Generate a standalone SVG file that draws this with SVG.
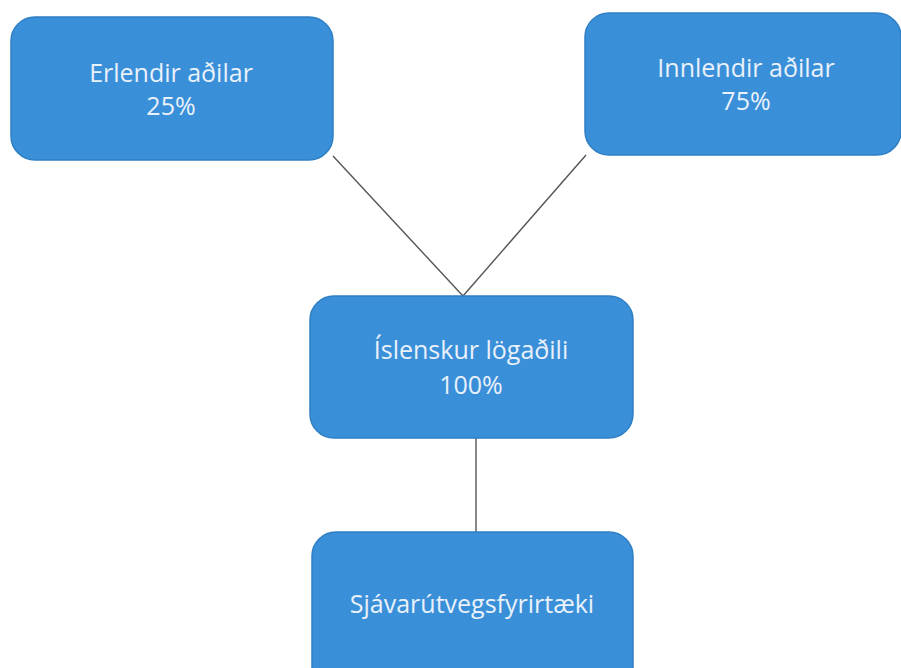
<svg xmlns="http://www.w3.org/2000/svg" width="901" height="668" viewBox="0 0 901 668">
<style>
.box{fill:#3a8fd9;stroke:#2f7fc4;stroke-width:1.5}
.lbl{font-family:"Open Sans","Liberation Sans",sans-serif;font-size:25px;fill:#e9f1fa;text-anchor:middle}
.conn{stroke:#555;stroke-width:1.4;fill:none}
</style>
<rect width="901" height="668" fill="#ffffff"/>
<g id="connectors">
<line class="conn" x1="333" y1="156" x2="463" y2="296"/>
<line class="conn" x1="586" y1="155" x2="463" y2="296"/>
<line class="conn" x1="476" y1="438" x2="476" y2="533"/>
</g>
<g id="erlendir">
<rect class="box" x="11" y="17" width="322" height="143" rx="24"/>
<text class="lbl" x="171" y="82">Erlendir aðilar</text>
<text class="lbl" x="171" y="115">25%</text>
</g>
<g id="innlendir">
<rect class="box" x="585" y="13" width="316" height="142" rx="24"/>
<text class="lbl" x="746" y="77">Innlendir aðilar</text>
<text class="lbl" x="746" y="110">75%</text>
</g>
<g id="islenskur">
<rect class="box" x="310" y="296" width="323" height="142" rx="24"/>
<text class="lbl" x="471" y="359">Íslenskur lögaðili</text>
<text class="lbl" x="471" y="394">100%</text>
</g>
<g id="sjavarutvegs">
<rect class="box" x="312" y="532" width="321" height="160" rx="24"/>
<text class="lbl" x="472" y="613">Sjávarútvegsfyrirtæki</text>
</g>
</svg>
